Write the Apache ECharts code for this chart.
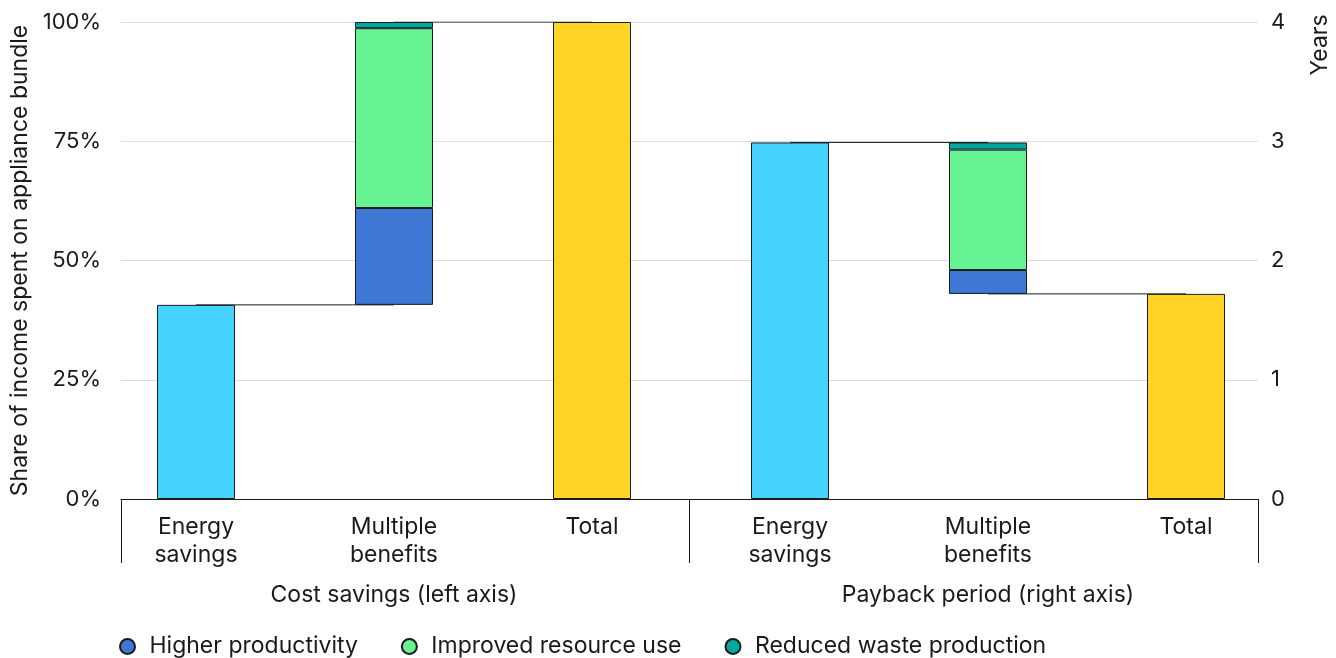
<!DOCTYPE html>
<html>
<head>
<meta charset="utf-8">
<script src="https://cdn.jsdelivr.net/npm/echarts@6/dist/echarts.min.js"></script>
<style>html,body{margin:0;padding:0;background:#fff}#c{width:1336px;height:658px}</style>
</head>
<body>
<div id="c"></div>
<script>
// ---- data ----
var categories = ['Energy\nsavings', 'Multiple\nbenefits', 'Total', 'Energy\nsavings', 'Multiple\nbenefits', 'Total'];
var groups = ['Cost savings (left axis)', 'Payback period (right axis)'];
var leftTicks = [0, 25, 50, 75, 100];      // %
var rightTicks = [0, 1, 2, 3, 4];          // years
// Cost savings (% of income)
var costEnergy = 40.7;
var costHigherProductivity = 20.3;
var costImprovedResource = 37.7;
var costReducedWaste = 1.3;
var costTotal = 100;
// Payback period (years)
var payEnergy = 2.99;
var payHigherProductivity = 0.20;
var payImprovedResource = 1.01;
var payReducedWaste = 0.06;
var payTotal = 1.72;

var FONT = 'Inter';
var C_ENERGY = '#45D3FE', C_TOTAL = '#FFD426', C_PROD = '#3F78D4', C_RES = '#67F293', C_WASTE = '#00A99D';
var BORDER = '#1a1a1a';

function at(idx, v) { var a = ['-', '-', '-', '-', '-', '-']; a[idx] = v; return a; }
function bar(name, color, data, yIdx, stack, transparent) {
  return {
    type: 'bar', name: name, xAxisIndex: 1, yAxisIndex: yIdx, stack: stack,
    data: data, barWidth: 78, barGap: '-100%', z: 3,
    itemStyle: transparent ? { color: 'transparent', borderWidth: 0 } : { color: color, borderColor: BORDER, borderWidth: 1 },
    emphasis: { disabled: true }, silent: transparent
  };
}
// waterfall bases
var costBase = costEnergy;
var payBase = payEnergy - payHigherProductivity - payImprovedResource - payReducedWaste;

var series = [
  bar('baseL', null, at(1, costBase), 2, 'L', true),
  bar('Energy savings', C_ENERGY, at(0, costEnergy), 2, 'L'),
  bar('Higher productivity', C_PROD, at(1, costHigherProductivity), 2, 'L'),
  bar('Improved resource use', C_RES, at(1, costImprovedResource), 2, 'L'),
  bar('Reduced waste production', C_WASTE, at(1, costReducedWaste), 2, 'L'),
  bar('Total', C_TOTAL, at(2, costTotal), 2, 'L'),
  bar('baseR', null, at(4, payBase), 3, 'R', true),
  bar('Energy savings', C_ENERGY, at(3, payEnergy), 3, 'R'),
  bar('Higher productivity', C_PROD, at(4, payHigherProductivity), 3, 'R'),
  bar('Improved resource use', C_RES, at(4, payImprovedResource), 3, 'R'),
  bar('Reduced waste production', C_WASTE, at(4, payReducedWaste), 3, 'R'),
  bar('Total', C_TOTAL, at(5, payTotal), 3, 'R')
];
function connector(data, yIdx) {
  return { type: 'line', xAxisIndex: 1, yAxisIndex: yIdx, data: data, symbol: 'none', z: 1,
    lineStyle: { color: '#1a1a1a', width: 1 }, silent: true, connectNulls: false };
}
series.push(connector([costEnergy, costEnergy, '-', '-', '-', '-'], 2));
series.push(connector(['-', costTotal, costTotal, '-', '-', '-'], 2));
series.push(connector(['-', '-', '-', payEnergy, payEnergy, '-'], 3));
series.push(connector(['-', '-', '-', '-', payTotal, payTotal], 3));

var txt = { fontFamily: FONT, fontSize: 23, color: '#1a1a1a' };
var tickTxt = { fontFamily: FONT, fontSize: 22, color: '#1a1a1a' };

var option = {
  animation: false,
  textStyle: { fontFamily: FONT },
  grid: [
    { left: 121, right: 78, top: 22, bottom: 159, outerBoundsMode: 'none', containLabel: false },
    { left: 97, right: 51, top: 22, bottom: 159, outerBoundsMode: 'none', containLabel: false }
  ],
  xAxis: [
    { type: 'value', gridIndex: 0, min: 0, max: 2, interval: 1,
      axisLine: { show: true, lineStyle: { color: '#1a1a1a', width: 1 } },
      axisTick: { show: true, inside: false, length: 64, lineStyle: { color: '#1a1a1a', width: 1 } },
      axisLabel: { show: false }, splitLine: { show: false } },
    { type: 'category', gridIndex: 1, data: categories,
      axisLine: { show: false }, axisTick: { show: false },
      axisLabel: Object.assign({ margin: 14, lineHeight: 28, interval: 0 }, txt) },
    { type: 'category', gridIndex: 1, data: groups, position: 'bottom', offset: 72,
      axisLine: { show: false }, axisTick: { show: false },
      axisLabel: Object.assign({ margin: 13, interval: 0 }, txt) }
  ],
  yAxis: [
    { type: 'value', gridIndex: 0, position: 'left', min: 0, max: 100, interval: 25,
      name: 'Share of income spent on appliance bundle', nameLocation: 'middle', nameGap: 87,
      nameTextStyle: txt,
      axisLine: { show: false }, axisTick: { show: false },
      axisLabel: Object.assign({ margin: 20, formatter: '{value}%' }, tickTxt),
      splitLine: { show: true, lineStyle: { color: '#dddddd', width: 1 } } },
    { type: 'value', gridIndex: 0, position: 'right', min: 0, max: 4, interval: 1,
      axisLine: { show: false }, axisTick: { show: false },
      axisLabel: Object.assign({ margin: 13 }, tickTxt),
      splitLine: { show: false } },
    { type: 'value', gridIndex: 1, min: 0, max: 100, show: false },
    { type: 'value', gridIndex: 1, min: 0, max: 4, show: false }
  ],
  legend: {
    data: ['Higher productivity', 'Improved resource use', 'Reduced waste production'],
    left: 114, top: 630, icon: 'circle', itemWidth: 34, itemHeight: 15, itemGap: 43,
    textStyle: txt, selectedMode: false
  },
  graphic: [
    { type: 'text', x: 1320, y: 45, rotation: Math.PI / 2,
      style: { text: 'Years', font: '23px Inter', fill: '#1a1a1a', align: 'center', verticalAlign: 'middle' } }
  ],
  series: series
};
echarts.init(document.getElementById('c')).setOption(option);
</script>
</body>
</html>
